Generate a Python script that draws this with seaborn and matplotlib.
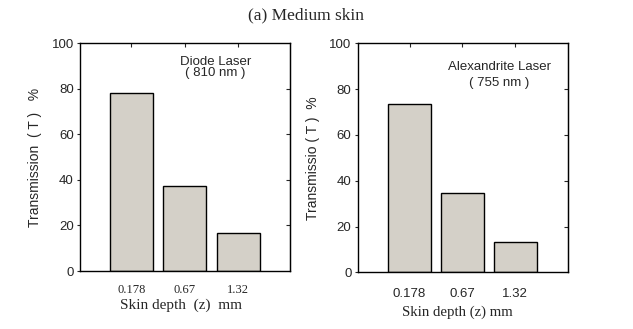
import matplotlib
matplotlib.use("Agg")
import matplotlib.pyplot as plt
import seaborn as sns
import pandas as pd

sns.set_style("white")
plt.rcParams['font.family'] = ['Liberation Sans', 'DejaVu Sans']

# datos
profundidad = ["0.178", "0.67", "1.32"]
diodo = [78, 37.1, 16.5]
alexandrita = [73.6, 34.5, 13.1]

color_barra = "#d4d0c8"
serif = ['Liberation Serif', 'DejaVu Serif']

fig = plt.figure(figsize=(6.33, 3.29), dpi=100)
ax1 = fig.add_axes([80/633, 1 - 271/329, 210/633, 228/329])
ax2 = fig.add_axes([357.7/633, 1 - 272.3/329, 210.6/633, 229/329])

paneles = [
    (ax1, diodo, "Transmission  ( T )   %", ("Diode Laser", "( 810 nm )"),
     (1.57, 91.8, 86.8), (-0.96, 2.97), serif, 9, 9.5, (0.481, -0.122),
     "Skin depth  (z)  mm", 11),
    (ax2, alexandrita, "Transmissio ( T )  %", ("Alexandrite Laser", "( 755 nm )"),
     (1.70, 89.8, 82.8), (-0.98, 3.0), None, 9.5, 11.5, (0.475, -0.143),
     "Skin depth (z) mm", 10.7),
]

for ax, vals, ylab, textos, pos, xl, fam_tick, fs_tick, pad_tick, xlab_pos, xlab, fs_xlab in paneles:
    df = pd.DataFrame({"z": profundidad, "T": vals})
    sns.barplot(data=df, x="z", y="T", color=color_barra, saturation=1,
                edgecolor="black", linewidth=1, width=0.8, ax=ax)
    ax.set_ylim(0, 100)
    ax.set_xlim(*xl)
    ax.set_yticks([0, 20, 40, 60, 80, 100])
    for s in ax.spines.values():
        s.set_color("black")
        s.set_linewidth(1)
    ax.tick_params(axis='x', bottom=False, top=True, direction='in', length=3,
                   width=0.8, pad=pad_tick, labelsize=fs_tick)
    ax.tick_params(axis='y', left=True, direction='out', length=2.5, width=0.8,
                   pad=2, labelsize=9.5)
    if fam_tick:
        for t in ax.get_xticklabels():
            t.set_family(fam_tick)
    sec = ax.secondary_yaxis('right')
    sec.set_yticks([20, 40, 60, 80])
    sec.tick_params(direction='in', length=3, width=0.8, labelright=False)
    ax.set_ylabel(ylab, fontsize=10)
    ax.yaxis.set_label_coords(-0.18, 0.5)
    ax.set_xlabel(xlab, fontsize=fs_xlab, family=serif)
    ax.xaxis.set_label_coords(*xlab_pos)
    ax.text(pos[0], pos[1], textos[0], ha='center', va='center', fontsize=9.5)
    ax.text(pos[0], pos[2], textos[1], ha='center', va='center', fontsize=9.5)

fig.text(306.5/633, 1 - 15/329, "(a) Medium skin", ha='center', va='center',
         fontsize=12.5, family=serif)

fig.savefig("out.png", dpi=100)
